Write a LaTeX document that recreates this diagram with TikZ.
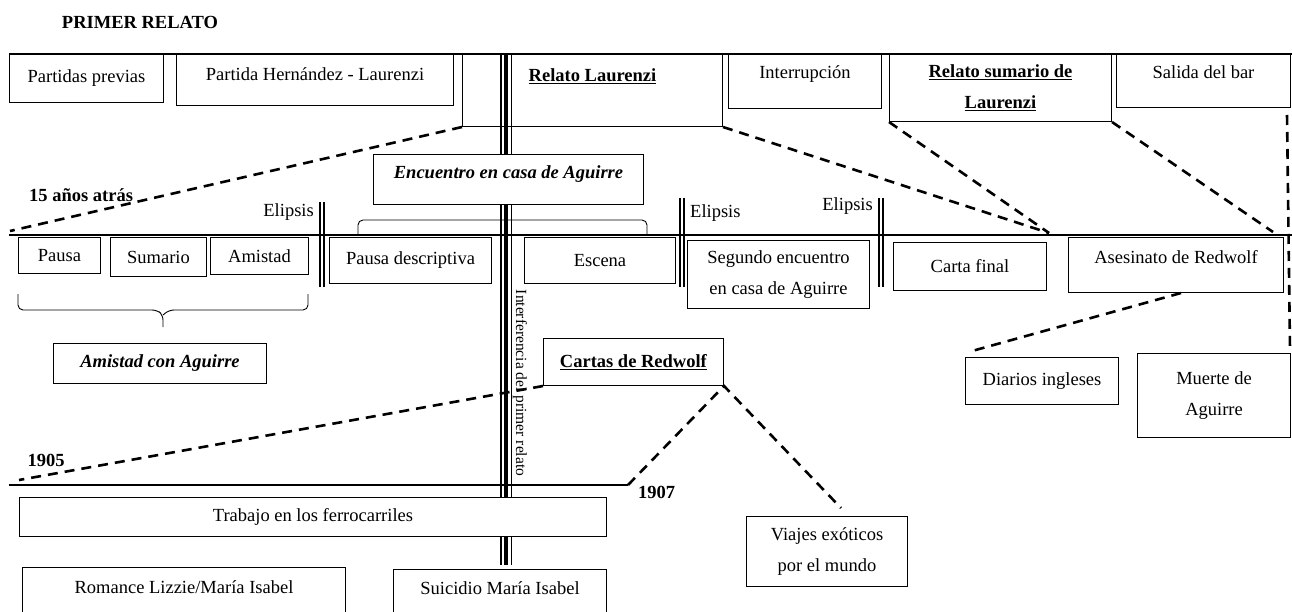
\documentclass[tikz,border=0pt]{standalone}
\usepackage{fontspec}
\setmainfont{Liberation Serif}
\usetikzlibrary{calc}

\newcommand{\txt}{\fontsize{18.5}{31}\selectfont}

\begin{document}
\begin{tikzpicture}[x=1pt,y=-1pt,
  every node/.style={font=\txt,inner sep=0pt},
  box/.style={draw,fill=white,line width=1pt,anchor=north west,align=center},
  up/.style={text height=13pt,text depth=#1},
  dsh/.style={line width=2.6pt,dash pattern=on 10pt off 7pt},
  tline/.style={line width=2.6pt},
  brc/.style={rounded corners=5pt,line width=0.9pt},
  ebar/.style={line width=2pt},
  bold/.style={font=\txt\bfseries}]
\useasboundingbox (0,0) rectangle (1292,612);
\clip (0,0) rectangle (1292,612);

\node[bold] (titulo) at (140,22) {PRIMER RELATO};

\draw[line width=2pt] (9,54) -- (1292,54);
\draw[tline] (9,235) -- (1292,235);
\coordinate (t07) at (628,485);
\draw[tline] (9,485) -- (t07);

\draw[brc] (358,234) -- (358,220) -- (647,220) -- (647,234);
\draw[brc] (18,294) -- (18,310) -- (157,310) -- (163,315) -- (163,327)
  (163,315) -- (169,310) -- (308,310) -- (308,294);

\node[box,minimum width=154pt,minimum height=48pt] (pprev) at (9,54) {Partidas previas};
\node[box,minimum width=277pt,minimum height=51pt,up=12pt] (phl) at (176,54) {Partida Hernández - Laurenzi};
\node[box,minimum width=260pt,minimum height=72pt,up=31pt] (rlau) at (462,54) {\underline{\textbf{Relato Laurenzi}}};
\node[box,minimum width=153pt,minimum height=54pt,up=19pt] (intr) at (728,54) {Interrupción};
\node[box,minimum width=222pt,minimum height=67pt] (rsum) at (889,54) {\underline{\textbf{Relato sumario de}}\\\underline{\textbf{Laurenzi}}};
\node[box,minimum width=174pt,minimum height=53pt,up=18pt] (sbar) at (1116,54) {Salida del bar};

\node[box,minimum width=82pt,minimum height=36pt] (pausa) at (18,237) {Pausa};
\node[box,minimum width=96pt,minimum height=39pt] (sumar) at (110,237) {Sumario};
\node[box,minimum width=98pt,minimum height=37pt] (amist) at (210,237) {Amistad};
\node[box,minimum width=162pt,minimum height=46pt] (pdesc) at (329,237) {Pausa descriptiva};
\node[box,minimum width=151pt,minimum height=46pt] (escena) at (524,237) {Escena};
\node[box,minimum width=182pt,minimum height=68pt] (segund) at (687,240) {Segundo encuentro\\en casa de Aguirre};
\node[box,minimum width=153pt,minimum height=48pt] (cartaf) at (893,242) {Carta final};
\node[box,minimum width=215pt,minimum height=55pt,up=16pt] (asesi) at (1068,237) {Asesinato de Redwolf};

\node[box,minimum width=213pt,minimum height=40pt] (amag) at (53,343) {\textbf{\textit{Amistad con Aguirre}}};
\node[box,minimum width=180pt,minimum height=47pt] (cartas) at (543,338) {\underline{\textbf{Cartas de Redwolf}}};
\node[box,minimum width=153pt,minimum height=47pt] (diar) at (965,357) {Diarios ingleses};
\node[box,minimum width=153pt,minimum height=84pt] (muer) at (1137,353) {Muerte de\\Aguirre};
\node[box,minimum width=161pt,minimum height=70pt] (viaj) at (746,516) {Viajes exóticos\\por el mundo};
\node[box,minimum width=323pt,minimum height=55pt,up=16pt] (roman) at (22,567) {Romance Lizzie/María Isabel};
\node[box,minimum width=213pt,minimum height=55pt,up=18pt] (suic) at (393,569) {Suicidio María Isabel};

\draw[ebar] (319.5,202) -- (319.5,287) (323.5,202) -- (323.5,287);
\draw[ebar] (679.5,198) -- (679.5,287) (683.5,198) -- (683.5,287);
\draw[ebar] (878.5,198) -- (878.5,287) (882.5,198) -- (882.5,287);

\coordinate (t15) at (10,231);
\coordinate (junta) at (1049,233);
\coordinate (fin) at (1273,232);
\coordinate (t05) at (19,480);
\draw[dsh] (rlau.south west) -- (t15);
\draw[dsh] (rlau.south east) -- (junta);
\draw[dsh] (rsum.south west) -- (junta);
\draw[dsh] (rsum.south east) -- (fin);
\draw[dsh] ($(sbar.south east)+(-4,7)$) -- ($(muer.north east)+(-1,-3)$);
\draw[dsh] ($(asesi.south)+(5,0)$) -- ($(diar.north west)+(7,-6)$);
\draw[dsh] (cartas.south west) -- (t05);
\draw[dsh] (t07) -- (cartas.south east) -- ($(viaj.north)+(14,-8)$);

\draw[line width=1.3pt] (501,54) -- (501,565) (511.5,54) -- (511.5,565);
\draw[line width=4pt] (506,54) -- (506,565);

\node[box,minimum width=270pt,minimum height=50pt,up=15pt] (encu) at (373,154) {\textbf{\textit{Encuentro en casa de Aguirre}}};
\node[box,minimum width=587pt,minimum height=39pt] (trab) at (19,497) {Trabajo en los ferrocarriles};

\node[bold,anchor=west] (hace) at (29,195) {15 años atrás};
\node[anchor=east] (eli1) at (314,212) {Elipsis};
\node[anchor=west] (eli2) at (690,213) {Elipsis};
\node[anchor=east] (eli3) at (873,206) {Elipsis};
\node[bold] (a1905) at (46,460) {1905};
\node[bold,anchor=west] (a1907) at (638,492) {1907};
\node[rotate=-90,font=\fontsize{15.5}{18}\selectfont] (interf) at (520,383) {Interferencia del primer relato};
\end{tikzpicture}
\end{document}
